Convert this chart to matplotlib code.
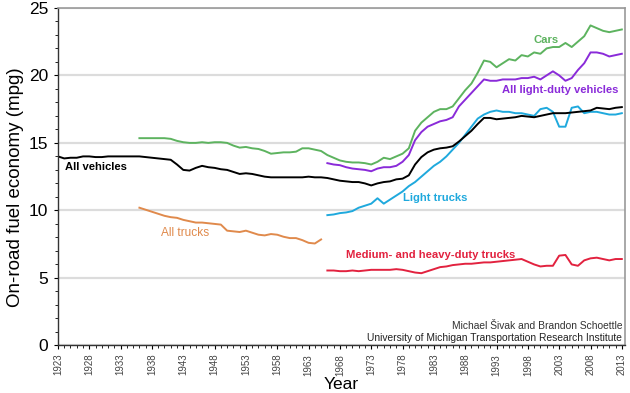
import numpy as np
import matplotlib
matplotlib.use("Agg")
from matplotlib import pyplot as plt
from matplotlib.ticker import MultipleLocator

plt.rcParams['font.family'] = ['Liberation Sans', 'DejaVu Sans']

# on-road fuel economy (mpg), one value per year
all_vehicles_years = np.arange(1923, 2014)
all_vehicles = [14.0, 13.85, 13.9, 13.9, 14.0, 14.0, 13.95, 13.95, 14.0, 14.0, 14.0, 14.0, 14.0,
                14.0, 13.95, 13.9, 13.85, 13.8, 13.75, 13.4, 13.0, 12.95, 13.15, 13.3, 13.2, 13.15,
                13.05, 13.0, 12.85, 12.7, 12.75, 12.7, 12.6, 12.5, 12.45, 12.45, 12.45, 12.45,
                12.45, 12.45, 12.5, 12.45, 12.45, 12.4, 12.3, 12.2, 12.15, 12.1, 12.1, 12.0,
                11.85, 12.0, 12.1, 12.15, 12.3, 12.35, 12.6, 13.4, 13.95, 14.3, 14.5, 14.6,
                14.65, 14.75, 15.1, 15.5, 15.9, 16.4, 16.85, 16.85, 16.75, 16.8, 16.85, 16.9,
                17.0, 16.95, 16.9, 17.0, 17.1, 17.2, 17.2, 17.2, 17.25, 17.3, 17.35, 17.4,
                17.6, 17.55, 17.5, 17.6, 17.65]

cars_years = np.arange(1936, 2014)
cars = [15.35, 15.35, 15.35, 15.35, 15.35, 15.3, 15.15, 15.05, 15.0, 15.0, 15.05, 15.0, 15.05,
        15.05, 15.0, 14.8, 14.65, 14.7, 14.6, 14.55, 14.4, 14.2, 14.25, 14.3, 14.3, 14.35, 14.6,
        14.6, 14.5, 14.4, 14.1, 13.9, 13.7, 13.6, 13.55, 13.55, 13.5, 13.4, 13.6, 13.9, 13.8,
        14.0, 14.2, 14.6, 15.9, 16.5, 16.9, 17.3, 17.5, 17.5, 17.7, 18.3, 18.9, 19.4, 20.2,
        21.1, 21.0, 20.6, 20.9, 21.2, 21.1, 21.5, 21.4, 21.7, 21.6, 22.0, 22.1, 22.1, 22.4,
        22.1, 22.5, 22.9, 23.7, 23.5, 23.3, 23.2, 23.3, 23.4]

all_trucks_years = np.arange(1936, 1966)
all_trucks = [10.2, 10.05, 9.9, 9.75, 9.6, 9.5, 9.45, 9.3, 9.2, 9.1, 9.1, 9.05, 9.0, 8.95, 8.5,
              8.45, 8.4, 8.5, 8.35, 8.2, 8.15, 8.25, 8.2, 8.05, 7.95, 7.95, 7.8, 7.6, 7.55, 7.85]

late_years = np.arange(1966, 2014)
light_duty = [13.5, 13.4, 13.35, 13.2, 13.1, 13.05, 13.0, 12.9, 13.1, 13.2, 13.2, 13.3, 13.6,
              14.1, 15.2, 15.8, 16.2, 16.4, 16.6, 16.7, 16.9, 17.7, 18.2, 18.7, 19.2, 19.7,
              19.6, 19.6, 19.7, 19.7, 19.7, 19.8, 19.8, 19.9, 19.7, 20.0, 20.3, 20.0, 19.6,
              19.8, 20.4, 20.9, 21.7, 21.7, 21.6, 21.4, 21.5, 21.6]
light_trucks = [9.65, 9.7, 9.8, 9.85, 9.95, 10.2, 10.35, 10.5, 10.9, 10.5, 10.8, 11.1, 11.4,
                11.8, 12.1, 12.5, 12.9, 13.3, 13.6, 14.0, 14.5, 15.0, 15.6, 16.2, 16.8, 17.1,
                17.3, 17.4, 17.3, 17.3, 17.2, 17.2, 17.1, 17.0, 17.5, 17.6, 17.3, 16.2, 16.2,
                17.6, 17.7, 17.2, 17.3, 17.3, 17.2, 17.1, 17.1, 17.2]
heavy_trucks = [5.55, 5.55, 5.5, 5.5, 5.55, 5.5, 5.55, 5.6, 5.6, 5.6, 5.6, 5.65, 5.6, 5.5, 5.4,
                5.35, 5.5, 5.65, 5.8, 5.85, 5.95, 6.0, 6.05, 6.05, 6.1, 6.15, 6.15, 6.2, 6.25,
                6.3, 6.35, 6.4, 6.2, 6.0, 5.85, 5.9, 5.9, 6.65, 6.7, 6.0, 5.9, 6.3, 6.45, 6.5,
                6.4, 6.3, 6.4, 6.4]

tick_years = np.arange(1923, 2014, 5)

green = "#5DB35F"
purple = "#8A2BD9"
cyan = "#1FA9DD"
red = "#E2223F"
orange = "#E08A4C"

fig = plt.figure(figsize=(6.3, 3.93), dpi=100)
ax = fig.add_axes([0.092, 0.121, 0.9, 0.859])

lw = 1.4
ax.plot(cars_years, cars, color=green, lw=lw)
ax.plot(late_years, light_duty, color=purple, lw=lw)
ax.plot(late_years, light_trucks, color=cyan, lw=lw)
ax.plot(all_vehicles_years, all_vehicles, color="black", lw=lw)
ax.plot(all_trucks_years, all_trucks, color=orange, lw=lw)
ax.plot(late_years, heavy_trucks, color=red, lw=lw)

# series labels
fs = 8.1
ax.text(1924.2, 13.2, "All vehicles", color="black", fontsize=fs, fontweight="bold", va="center")
ax.text(2000.9, 22.6, "Cars", color=green, fontsize=fs, fontweight="bold", va="center", ha="center")
ax.text(1993.9, 18.9, "All light-duty vehicles", color=purple, fontsize=fs, fontweight="bold", va="center")
ax.text(1978.1, 10.9, "Light trucks", color=cyan, fontsize=fs, fontweight="bold", va="center")
ax.text(1939.4, 8.3, "All trucks", color=orange, fontsize=8.6, va="center")
ax.text(1969.0, 6.7, "Medium- and heavy-duty trucks", color=red, fontsize=fs, fontweight="bold", va="center")

ax.text(0.995, 0.058, "Michael Šivak and Brandon Schoettle", transform=ax.transAxes,
        ha="right", va="center", fontsize=7.4, color="#333333")
ax.text(0.995, 0.022, "University of Michigan Transportation Research Institute", transform=ax.transAxes,
        ha="right", va="center", fontsize=7.4, color="#222222")

ax.set_xlim(1923, 2013.5)
ax.set_ylim(0, 25)
ax.set_xticks(tick_years)
ax.set_xticklabels([str(y) for y in tick_years], rotation=90, fontsize=7, color="#444444")
ax.xaxis.set_minor_locator(MultipleLocator(1))
ax.set_yticks([0, 5, 10, 15, 20, 25])
ax.yaxis.set_minor_locator(MultipleLocator(1))
ax.tick_params(axis="y", labelsize=12.5, length=3, width=0.8, pad=4)
ax.tick_params(axis="x", length=3, width=0.8, pad=3)
ax.tick_params(which="minor", length=2, width=0.6)

ax.yaxis.grid(True, color="#dcdcdc", lw=1.6)
ax.set_axisbelow(True)
for side in ["top", "right"]:
    ax.spines[side].set_color("#999999")
    ax.spines[side].set_linewidth(1.2)
for side in ["left", "bottom"]:
    ax.spines[side].set_color("#333333")
    ax.spines[side].set_linewidth(1.0)

ax.set_ylabel("On-road fuel economy (mpg)", fontsize=13.5, labelpad=3)
ax.yaxis.set_label_coords(-0.06, 0.47)
ax.set_xlabel("Year", fontsize=12.5, labelpad=1)

fig.savefig("out.png", dpi=100)
